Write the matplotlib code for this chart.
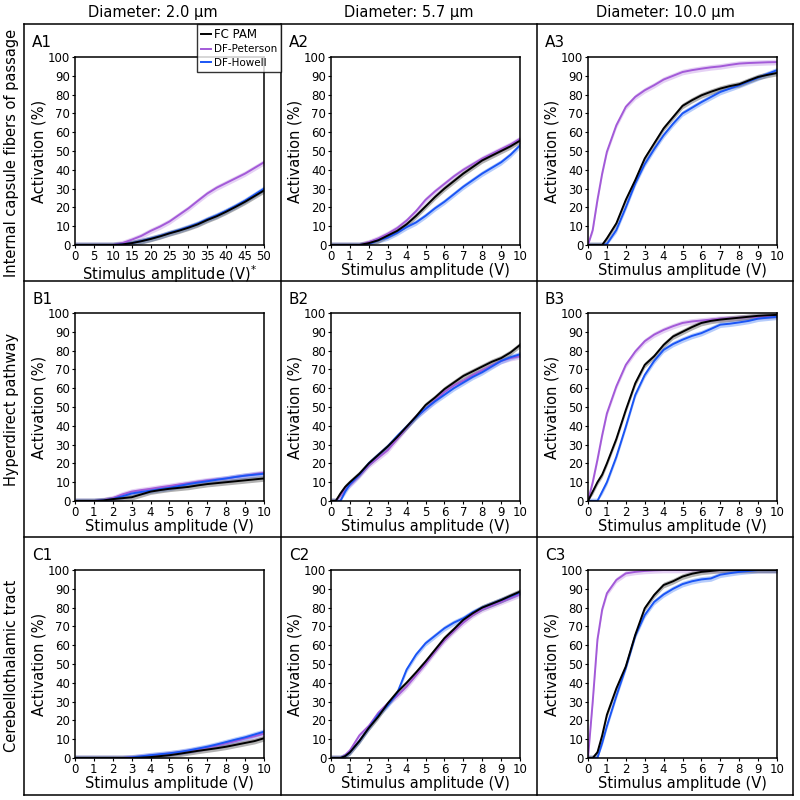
import matplotlib
matplotlib.use("Agg")
import matplotlib.pyplot as plt
from matplotlib.lines import Line2D
import numpy as np

# ---- data ----
col_titles = ["Diameter: 2.0 μm", "Diameter: 5.7 μm", "Diameter: 10.0 μm"]
row_titles = ["Internal capsule fibers of passage", "Hyperdirect pathway",
              "Cerebellothalamic tract"]
series_names = ["FC PAM", "DF-Peterson", "DF-Howell"]

x50 = [0, 2.5, 5, 7.5, 10, 12.5, 15, 17.5, 20, 22.5, 25, 27.5, 30, 32.5, 35,
       37.5, 40, 42.5, 45, 47.5, 50]
x10 = [0, 0.25, 0.5, 0.75, 1, 1.5, 2, 2.5, 3, 3.5, 4, 4.5, 5, 5.5, 6, 6.5, 7,
       7.5, 8, 8.5, 9, 9.5, 10]

A1_pam = [0, 0, 0, 0, 0, 0.3, 1, 2, 3.2, 4.6, 6.2, 7.6, 9.2, 11, 13.3, 15.3, 17.7, 20.3, 23, 26, 29]
A1_pet = [0, 0, 0, 0, 0, 1, 2.8, 4.8, 7.5, 9.8, 12.5, 16, 19.5, 23.5, 27.4, 30.5, 33, 35.5, 38, 41, 44]
A1_how = [0, 0, 0, 0, 0, 0.3, 1, 2.1, 3.4, 4.8, 6.4, 7.9, 9.6, 11.4, 13.7, 15.8, 18.2, 20.8, 23.6, 26.8, 30]

A2_pam = [0, 0, 0, 0, 0, 0, 1, 2.5, 5, 7.5, 11, 15.5, 20.5, 25.5, 30, 34, 38, 41.5, 45, 47.5, 50, 52.5, 55.5]
A2_pet = [0, 0, 0, 0, 0, 0, 1.5, 3.5, 6, 9, 13, 18, 24, 28.5, 32.5, 36.5, 40, 43, 46, 48.5, 51, 53.5, 56.5]
A2_how = [0, 0, 0, 0, 0, 0, 0.5, 2.5, 4, 6.5, 9.5, 12, 15.5, 19.5, 23, 27, 31, 34.5, 38, 41, 44, 48, 53]

A3_pam = [0, 0, 0, 0, 3.5, 11.5, 24, 34.5, 46, 54, 62, 68, 74, 77, 79.6, 81.5, 83.2, 84.5, 85.5, 87.5, 89.4, 90.5, 91.5]
A3_pet = [0, 8, 24, 38, 49.6, 63.7, 73.5, 78.8, 82.3, 85, 88, 90, 92, 93, 93.8, 94.5, 95, 95.8, 96.5, 96.8, 97, 97.2, 97.3]
A3_how = [0, 0, 0, 0, 0.5, 8, 20, 32.7, 43, 51, 58.4, 64.5, 70, 73, 76, 78.7, 81.4, 83.2, 85, 87, 89, 91, 93]

B1_pam = [0, 0, 0, 0, 0, 0.3, 1, 1.5, 2, 3.5, 5, 5.8, 6.5, 7, 7.5, 8.3, 9, 9.5, 10, 10.5, 11, 11.5, 12]
B1_pet = [0, 0, 0, 0, 0, 0.5, 1.5, 3.5, 5, 5.8, 6.5, 7.3, 8, 8.8, 9.5, 10.3, 11, 11.5, 12, 12.8, 13.5, 14.3, 15]
B1_how = [0, 0, 0, 0, 0, 0.3, 1, 2.5, 4, 4.8, 5.5, 6.3, 7, 8, 9, 9.8, 10.5, 11.3, 12, 12.8, 13.5, 14, 14.5]

B2_pam = [0, 0, 4, 7.5, 10, 14.5, 20, 24.5, 29, 34, 39.5, 45, 51, 55, 59.5, 63, 66.5, 69, 71.5, 74, 76, 79, 83]
B2_pet = [0, 0, 3, 6.5, 8.5, 13.5, 19, 23, 27, 33, 39, 45, 49, 53.5, 58, 61.5, 64, 67, 69.5, 72, 74.5, 76, 77]
B2_how = [0, 0, 0, 5, 9, 14, 20, 24.5, 29, 34.5, 39.5, 44.5, 49, 53, 56.5, 60, 63, 66, 68.5, 71.5, 74.5, 76.5, 78]

B3_pam = [0, 5, 10, 14, 20, 33, 48.4, 62.6, 72.4, 77, 83, 87.5, 90, 92.5, 94.7, 95.8, 96.5, 97, 97.5, 98, 98.5, 98.8, 99]
B3_pet = [0, 10, 22, 35, 46.6, 61, 72.4, 79.5, 85, 88.5, 91, 93, 94.7, 95.5, 96, 96.5, 97, 97.2, 97.5, 97.8, 98, 98.3, 98.5]
B3_how = [0, 0, 0, 5, 10, 23.5, 39.5, 56.4, 67, 74.5, 80.4, 83.5, 85.8, 87.8, 89.3, 91.5, 93.8, 94.3, 95, 95.8, 97, 97.5, 98]

C1_pam = [0, 0, 0, 0, 0, 0, 0, 0, 0, 0.2, 0.5, 1, 1.5, 2.2, 3, 3.8, 4.5, 5.2, 6, 7, 8, 9, 10.5]
C1_pet = [0, 0, 0, 0, 0, 0, 0, 0, 0.3, 0.8, 1.3, 1.8, 2.4, 3, 3.8, 4.6, 5.6, 6.6, 7.8, 9, 10.4, 11.6, 13]
C1_how = [0, 0, 0, 0, 0, 0, 0, 0, 0.3, 0.9, 1.5, 2, 2.5, 3.2, 4, 5, 6, 7.2, 8.5, 9.8, 11, 12.5, 14]

C2_pam = [0, 0, 0, 1, 3, 9, 16, 22, 29, 35, 40, 45.5, 51.3, 57.5, 63.7, 68.5, 73.5, 77, 80, 82, 84, 86.3, 88.5]
C2_pet = [0, 0, 0, 1.5, 4, 12, 17, 24, 29, 33, 38, 44, 50, 56.5, 62.5, 67.5, 72, 76, 79, 81, 83, 85, 87]
C2_how = [0, 0, 0, 1, 3, 9, 16, 23, 28, 34.5, 47, 55, 61, 65, 69, 72, 74.3, 77.5, 80, 82, 84, 86, 88]

C3_pam = [0, 0, 3, 12, 23, 37, 48.7, 65.5, 79.6, 86.7, 92, 94, 96.5, 98, 99, 99.5, 100, 100, 100, 100, 100, 100, 100]
C3_pet = [0, 30, 63, 79, 87.6, 94.7, 98.2, 99, 99.5, 99.8, 100, 100, 100, 100, 100, 100, 100, 100, 100, 100, 100, 100, 100]
C3_how = [0, 0, 0, 8, 17, 33, 48, 65, 76, 83, 87, 90, 92.5, 94, 95, 95.5, 97.5, 98.3, 99, 99.5, 100, 100, 100]

band = 1.5  # half width of the shaded interval (%)

panels = [
    [(x50, A1_pam, A1_pet, A1_how), (x10, A2_pam, A2_pet, A2_how), (x10, A3_pam, A3_pet, A3_how)],
    [(x10, B1_pam, B1_pet, B1_how), (x10, B2_pam, B2_pet, B2_how), (x10, B3_pam, B3_pet, B3_how)],
    [(x10, C1_pam, C1_pet, C1_how), (x10, C2_pam, C2_pet, C2_how), (x10, C3_pam, C3_pet, C3_how)],
]
colors = ["black", "#a35ad8", "#1a55f5"]
band_colors = ["#555555", "#c79be8", "#5f8ff7"]

# ---- layout (pixels on 800x800) ----
W = H = 800.0
box_x = [24, 281, 537, 793]
box_y = [24, 281, 537, 795]
ax_left = [75, 331, 588]
ax_top = [57, 313, 570]
ax_w, ax_h = 189, 188

fig = plt.figure(figsize=(8, 8), dpi=100)

for r in range(3):
    for c in range(3):
        xs, pam, pet, how = panels[r][c]
        ax = fig.add_axes([ax_left[c] / W, 1 - (ax_top[r] + ax_h) / H, ax_w / W, ax_h / H])
        x = np.array(xs)
        for ys, col, bcol in [(pet, colors[1], band_colors[1]),
                              (how, colors[2], band_colors[2]),
                              (pam, colors[0], band_colors[0])]:
            y = np.array(ys)
            ax.fill_between(x, np.clip(y - band, 0, 100), np.clip(y + band, 0, 100),
                            color=bcol, alpha=0.45, lw=0)
            ax.plot(x, y, color=col, lw=1.4)
        xmax = x[-1]
        ax.set_xlim(0, xmax)
        ax.set_ylim(0, 100)
        ax.set_yticks(np.arange(0, 101, 10))
        ax.set_xticks(np.arange(0, xmax + 0.1, xmax / 10))
        ax.set_xticklabels([f"{v:g}" for v in np.arange(0, xmax + 0.1, xmax / 10)])
        ax.tick_params(labelsize=8.5, length=2.5, width=0.8, pad=1, direction="out")
        for s in ax.spines.values():
            s.set_linewidth(1.1)
        xl = "Stimulus amplitude (V)"
        if r == 0 and c == 0:
            xl = "Stimulus amplitude (V)$^{*}$"
        ax.set_xlabel(xl, fontsize=10.5, labelpad=0)
        ax.set_ylabel("Activation (%)", fontsize=10.5, labelpad=1)
        # panel label
        fig.text((box_x[c] + 8) / W, 1 - (box_y[r] + 23) / H, "ABC"[r] + str(c + 1),
                 fontsize=11, ha="left", va="baseline")

# frame boxes
for xv in box_x:
    fig.add_artist(Line2D([xv / W, xv / W], [1 - box_y[0] / H, 1 - box_y[-1] / H],
                          transform=fig.transFigure, color="black", lw=1.1))
for yv in box_y:
    fig.add_artist(Line2D([box_x[0] / W, box_x[-1] / W], [1 - yv / H, 1 - yv / H],
                          transform=fig.transFigure, color="black", lw=1.1))

# column and row titles
for c in range(3):
    fig.text((box_x[c] + box_x[c + 1]) / 2 / W, 1 - 12 / H, col_titles[c],
             fontsize=10.5, ha="center", va="center")
for r in range(3):
    fig.text(12 / W, 1 - (box_y[r] + box_y[r + 1]) / 2 / H, row_titles[r],
             fontsize=10.5, ha="center", va="center", rotation=90)

# legend
handles = [Line2D([], [], color=col, lw=1.4) for col in colors]
leg = fig.legend(handles, series_names, loc="upper right",
                 bbox_to_anchor=(281 / W, 1 - 24 / H), fontsize=7.5,
                 frameon=True, fancybox=False, edgecolor="black",
                 handlelength=1.0, handletextpad=0.3, borderpad=0.35,
                 labelspacing=0.35, borderaxespad=0)
leg.get_frame().set_linewidth(1.0)
leg.get_texts()[0].set_fontsize(8.5)

fig.savefig("out.png", dpi=100)
